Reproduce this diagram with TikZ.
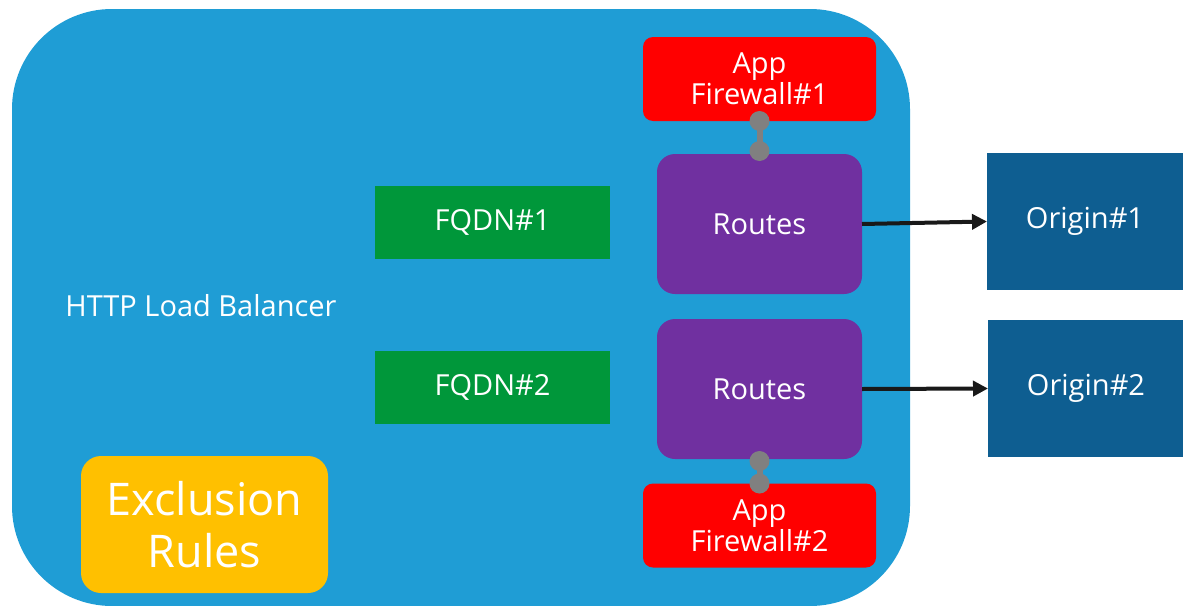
\documentclass[tikz,border=0pt]{standalone}
\usepackage{fontspec}
\setmainfont{Open Sans}
\usetikzlibrary{arrows.meta}
\definecolor{lbblue}{RGB}{31,157,213}
\definecolor{fwred}{RGB}{255,0,0}
\definecolor{rtpurple}{RGB}{112,48,160}
\definecolor{fqgreen}{RGB}{0,151,58}
\definecolor{orblue}{RGB}{14,94,145}
\definecolor{exyellow}{RGB}{255,192,0}
\definecolor{dotgray}{RGB}{128,128,128}
\tikzset{
  box/.style={inner sep=0pt, outer sep=0pt, text=white, align=center, font=\fontsize{29}{34}\selectfont},
  fw/.style={box, fill=fwred, rounded corners=10pt, minimum width=233pt, minimum height=84pt, font=\fontsize{29}{31}\selectfont},
  rt/.style={box, fill=rtpurple, rounded corners=18pt, minimum width=205pt, minimum height=140pt},
  fq/.style={box, fill=fqgreen, minimum width=235pt, minimum height=73pt},
  org/.style={box, fill=orblue, minimum width=196pt, minimum height=137pt},
  link/.style={dotgray, line width=6pt},
  dot/.style={circle, fill=dotgray, inner sep=0pt, minimum size=20pt},
  arr/.style={line width=4pt, black!90, -{Triangle[length=15pt,width=15pt]}}
}
\begin{document}
\begin{tikzpicture}[x=1pt,y=-1pt]
\useasboundingbox (0,0) rectangle (1183,605);
\fill[lbblue, rounded corners=100pt] (12,9) rectangle (910,606);
\node[box, anchor=center] (lb) at (201,306) {HTTP Load Balancer};
\node[fw] (fw1) at (759.5,79) {App\\Firewall\#1};
\node[rt] (rt1) at (759.5,224) {Routes};
\node[fq] (fq1) at (492.5,222.5) {FQDN\#1};
\node[org] (or1) at (1085,221.5) {Origin\#1};
\node[rt] (rt2) at (759.5,389) {Routes};
\node[fq] (fq2) at (492.5,387.5) {FQDN\#2};
\node[org] (or2) at (1086,388.5) {Origin\#2};
\node[fw] (fw2) at (759.5,525.5) {App\\Firewall\#2};
\node[box, fill=exyellow, rounded corners=20pt, minimum width=247pt, minimum height=137pt, font=\fontsize{45}{52}\selectfont] (ex) at (204.5,524.5) {Exclusion\\Rules};
\coordinate (a1) at (fw1.south);
\coordinate (b1) at ([yshift=3pt]rt1.north);
\draw[link] (a1) -- (b1);
\node[dot] (d1) at (a1) {};
\node[dot] (d2) at (b1) {};
\coordinate (a2) at ([yshift=-2pt]rt2.south);
\coordinate (b2) at (fw2.north);
\draw[link] (a2) -- (b2);
\node[dot] (d3) at (a2) {};
\node[dot] (d4) at (b2) {};
\draw[arr] (rt1.east) -- (or1.west);
\draw[arr] (rt2.east) -- (or2.west);
\end{tikzpicture}
\end{document}
